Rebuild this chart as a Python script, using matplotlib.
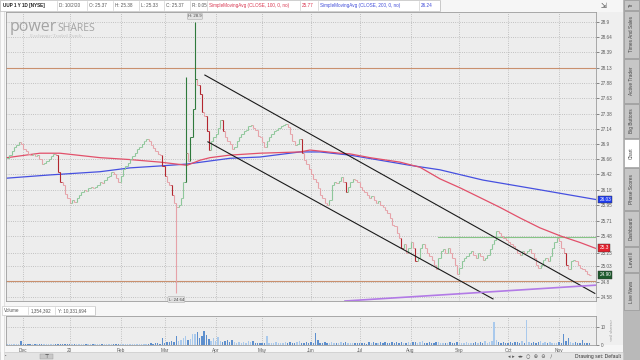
import matplotlib
matplotlib.use("Agg")
import matplotlib.pyplot as plt
import numpy as np
from matplotlib.patches import Rectangle
from matplotlib.ticker import NullLocator, NullFormatter
from matplotlib.transforms import blended_transform_factory

plt.rcParams["font.family"] = ["Liberation Sans", "DejaVu Sans"]

# daily closes, one per trading day (index 0 = late Nov 2019)
closes = [
    26.68, 26.72, 26.78, 26.85, 26.88, 26.93, 26.90, 26.82, 26.78, 26.74,
    26.72, 26.74, 26.70, 26.72, 26.66, 26.58, 26.60, 26.62, 26.66, 26.70,
    26.74, 26.72, 26.45, 26.30, 26.25, 26.12, 26.05, 25.98, 26.03, 25.99,
    26.06, 26.10, 26.14, 26.18, 26.16, 26.20, 26.23, 26.20, 26.22, 26.26,
    26.30, 26.28, 26.33, 26.38, 26.40, 26.45, 26.42, 26.36, 26.30, 26.40,
    26.50, 26.55, 26.60, 26.66, 26.70, 26.76, 26.82, 26.85, 26.90, 26.94,
    26.98, 26.95, 26.88, 26.84, 26.78, 26.74, 26.72, 26.55, 26.40, 26.30,
    26.25, 26.10, 25.98, 25.92, 25.95, 26.05, 26.30, 26.75, 26.62, 27.00,
    27.45, 27.95, 27.85, 27.70, 27.40, 27.35, 27.10, 26.80, 26.95, 27.00,
    27.05, 27.15, 27.28, 27.10, 27.00, 26.95, 26.90, 26.82, 26.85, 26.95,
    27.00, 27.05, 27.10, 27.12, 27.18, 27.20, 27.15, 27.12, 27.02, 27.00,
    26.92, 26.85, 26.95, 27.00, 27.05, 27.10, 27.12, 27.15, 27.18, 27.20,
    27.22, 27.16, 27.05, 26.95, 26.88, 26.90, 26.98, 26.75, 26.65, 26.58,
    26.50, 26.42, 26.35, 26.30, 26.20, 26.10, 26.05, 25.98, 25.95, 26.02,
    26.25, 26.30, 26.28, 26.32, 26.38, 26.30, 26.15, 26.22, 26.30, 26.35,
    26.33, 26.30, 26.22, 26.18, 26.15, 26.10, 26.05, 26.08, 26.03, 25.98,
    26.00, 25.95, 25.92, 25.87, 25.82, 25.75, 25.65, 25.62, 25.52, 25.45,
    25.30, 25.35, 25.22, 25.30, 25.38, 25.30, 25.10, 25.15, 25.30, 25.35,
    25.30, 25.22, 25.18, 25.12, 25.05, 24.98, 25.15, 25.25, 25.28, 25.22,
    25.30, 25.22, 25.15, 25.05, 24.92, 25.00, 25.10, 25.15, 25.18, 25.22,
    25.25, 25.20, 25.15, 25.22, 25.18, 25.12, 25.15, 25.20, 25.28, 25.35,
    25.42, 25.55, 25.52, 25.48, 25.45, 25.42, 25.38, 25.35, 25.32, 25.28,
    25.22, 25.20, 25.25, 25.22, 25.25, 25.28, 25.22, 25.15, 25.05, 25.00,
    25.05, 25.12, 25.15, 25.10, 25.18, 25.30, 25.38, 25.45, 25.40, 25.30,
    25.22, 25.05, 24.98, 25.10, 25.12, 25.10, 25.05, 25.00, 24.98, 24.95,
    24.92, 24.90,
]

# volume in millions of shares
volume = [
    0.4, 0.3, 0.5, 0.4, 0.6, 0.8, 2.4, 0.5, 0.4, 0.3,
    0.5, 0.4, 0.3, 0.6, 0.4, 0.5, 0.3, 0.4, 0.5, 0.3,
    0.3, 0.4, 0.6, 0.5, 0.3, 0.4, 0.5, 0.6, 0.4, 0.5,
    0.3, 0.4, 0.6, 0.5, 0.4, 0.3, 0.5, 0.4, 0.6, 0.5,
    0.4, 0.3, 0.5, 0.6, 0.4, 0.5, 0.3, 0.6, 0.5, 0.4,
    0.5, 0.6, 0.4, 0.3, 0.5, 0.6, 0.4, 0.7, 0.5, 0.6,
    0.8, 0.6, 1.0, 0.7, 0.9, 1.2, 0.8, 3.8, 1.0, 1.5,
    1.8, 2.5, 1.6, 5.0, 2.0, 2.6, 4.2, 5.2, 3.0, 3.5,
    6.5, 6.2, 7.2, 4.0, 5.0, 8.0, 5.5, 3.2, 2.5, 4.0,
    2.2, 4.5, 2.0, 1.8, 2.2, 2.6, 1.5, 3.0, 1.6, 1.4,
    1.8, 1.2, 1.6, 1.3, 2.0, 1.5, 2.2, 1.2, 1.4, 1.1,
    1.3, 1.2, 5.0, 1.4, 1.0, 1.2, 1.6, 1.1, 1.3, 1.0,
    1.5, 1.2, 1.9, 1.3, 1.1, 1.6, 2.0, 1.4, 1.2, 1.8,
    1.4, 1.6, 1.2, 7.0, 3.0, 1.4, 1.2, 1.6, 1.0, 1.3,
    1.8, 1.1, 1.4, 1.0, 1.6, 1.2, 1.5, 0.9, 1.3, 1.1,
    0.9, 1.2, 1.0, 1.4, 1.1, 0.8, 1.5, 1.2, 1.6, 1.0,
    1.3, 1.5, 1.1, 1.7, 1.2, 1.4, 1.9, 1.3, 1.6, 1.2,
    1.8, 1.4, 1.2, 1.6, 1.3, 1.9, 1.5, 1.2, 1.7, 2.0,
    1.4, 1.2, 1.6, 1.1, 1.3, 1.9, 1.5, 1.2, 1.0, 1.4,
    1.2, 1.6, 1.1, 1.3, 1.8, 1.0, 1.4, 1.2, 1.6, 1.1,
    1.3, 1.0, 1.5, 1.2, 1.8, 1.4, 2.0, 1.3, 1.6, 2.2,
    13.0, 3.0, 1.5, 1.2, 1.8, 1.4, 1.1, 1.6, 1.3, 1.9,
    1.5, 1.2, 2.0, 1.4, 14.0, 1.6, 1.2, 1.5, 1.1, 1.8,
    2.5, 1.3, 1.7, 1.2, 1.5, 1.1, 1.4, 1.3, 1.6, 1.2,
    6.5, 2.0, 4.0, 1.5, 1.2, 1.8, 1.4, 1.1, 3.0, 1.3,
    1.0, 1.2,
]

# bad prints (bar index -> extreme)
spike_highs = {77: 27.98, 81: 28.90}
spike_lows = {73: 24.64}

month_idx = [7, 27, 49, 68, 90, 110, 131, 152, 174, 195, 216, 238]
month_labels = ["Dec", "20", "Feb", "Mar", "Apr", "May", "Jun", "Jul", "Aug", "Sep", "Oct", "Nov"]
price_ticks = [28.9, 28.64, 28.39, 28.13, 27.88, 27.63, 27.38, 27.14, 26.9, 26.66,
               26.42, 26.18, 25.95, 25.71, 25.48, 25.23, 25.03, 24.8, 24.58]

ma100_x = [0, 14.2, 22.8, 40.1, 53, 66, 77.6, 83.2, 87.5, 96.1, 109, 126.3, 130.6,
           143.5, 147.8, 156.5, 169.4, 178, 182.3, 186.6, 195.3, 203.9, 212.5,
           221.1, 229.7, 238.4, 247, 253.9]
ma100_y = [26.68, 26.75, 26.75, 26.68, 26.65, 26.61, 26.56, 26.64, 26.68, 26.72,
           26.75, 26.77, 26.80, 26.75, 26.74, 26.68, 26.61, 26.53, 26.44, 26.35,
           26.21, 26.06, 25.91, 25.75, 25.60, 25.48, 25.38, 25.29]
ma200_x = [0, 18.5, 40.1, 53, 66, 77.6, 96.1, 109, 126.3, 134.9, 147.8, 160.8,
           173.7, 186.6, 205.2, 229.7, 253.9]
ma200_y = [26.36, 26.41, 26.46, 26.52, 26.55, 26.58, 26.67, 26.69, 26.77, 26.77,
           26.72, 26.64, 26.56, 26.49, 26.33, 26.18, 26.03]

channel_upper_x, channel_upper_y = [85.3, 253.4], [28.01, 24.63]
channel_lower_x, channel_lower_y = [86.6, 209.5], [26.93, 24.55]
support_x, support_y = [145.7, 253.9], [24.52, 24.75]
green_x, green_y = [185.8, 253.9], [25.46, 25.46]
level_top, level_bottom = 28.13, 24.81

W, H = 640, 360


def fx(x):
    return x / W


def fy(y):
    return 1 - y / H


fig = plt.figure(figsize=(6.4, 3.6), dpi=100, facecolor="#f6f6f6")

# backgrounds: price axis strip, sidebar, toolbars
fig.add_artist(Rectangle((fx(596), fy(345)), fx(27), 333 / H, transform=fig.transFigure,
                         fc="#efefef", ec="none", zorder=-2))
fig.add_artist(Rectangle((fx(623), 0), fx(17), 1, transform=fig.transFigure,
                         fc="#b9b9b9", ec="none", zorder=-2))
fig.add_artist(Rectangle((0, 0), fx(623), 8 / H, transform=fig.transFigure,
                         fc="#e4e4e4", ec="#c0c0c0", lw=0.4, zorder=-2))
fig.add_artist(Rectangle((0, 0), fx(4), 1, transform=fig.transFigure,
                         fc="#fafafa", ec="#d0d0d0", lw=0.4, zorder=-2))

ax = fig.add_axes([fx(6), fy(301), 590 / W, 289 / H])
vax = fig.add_axes([fx(6), fy(345), 590 / W, 29 / H], sharex=ax)

for a in (ax, vax):
    a.set_facecolor("#ededed")
    for s in a.spines.values():
        s.set_color("#9c9c9c")
        s.set_linewidth(0.6)

idx = np.arange(len(closes))
c = np.array(closes)
opens = np.r_[c[0], c[:-1]]
highs = np.maximum(opens, c)
lows = np.minimum(opens, c)
for k, v in spike_highs.items():
    highs[k] = v
for k, v in spike_lows.items():
    lows[k] = v
chg = c - opens
cols = []
for d in chg:
    if d >= 0:
        cols.append("#2f7a3c" if d >= 0.3 else "#8ec79a")
    else:
        cols.append("#b3262f" if d <= -0.14 else "#e6a2a8")

# grid
grid_kw = dict(color="#9a9a9a", lw=0.5, linestyle=(0, (1, 2.2)))
for m in month_idx:
    ax.axvline(m, zorder=0, **grid_kw)
    vax.axvline(m, zorder=0, **grid_kw)
for p in price_ticks:
    ax.axhline(p, zorder=0, **grid_kw)
vax.axhline(10, zorder=0, **grid_kw)

# levels and drawings
ax.axhline(level_top, color="#c9906e", lw=0.8, zorder=1)
ax.axhline(level_bottom, color="#c9906e", lw=0.8, zorder=1)
ax.plot(green_x, green_y, color="#86c486", lw=0.8, zorder=1)
ax.plot(ma200_x, ma200_y, color="#4650e0", lw=0.9, zorder=2)
ax.plot(ma100_x, ma100_y, color="#e2506a", lw=0.9, zorder=2)

# OHLC bars
ax.vlines(idx, lows, highs, colors=cols, lw=0.8, zorder=3)
ax.hlines(opens, idx - 0.7, idx, colors=cols, lw=0.6, zorder=3)
ax.hlines(c, idx, idx + 0.7, colors=cols, lw=0.6, zorder=3)

ax.plot(channel_upper_x, channel_upper_y, color="#1a1a1a", lw=0.8, zorder=4)
ax.plot(channel_lower_x, channel_lower_y, color="#1a1a1a", lw=0.8, zorder=4)
ax.plot(support_x, support_y, color="#b27ae6", lw=1.2, zorder=4)

ax.set_yscale("log")
ax.set_ylim(24.52, 29.07)
ax.set_xlim(-0.43, 253.9)
ax.yaxis.set_minor_locator(NullLocator())
ax.yaxis.set_minor_formatter(NullFormatter())
ax.set_yticks(price_ticks)
ax.set_yticklabels([f"{p:g}" for p in price_ticks])
ax.yaxis.tick_right()
ax.tick_params(axis="y", labelsize=3.3, colors="#5a5a5a", length=2, width=0.5, pad=1.5)
ax.tick_params(axis="x", bottom=False, labelbottom=False)

# right-side price tags
bt = blended_transform_factory(ax.transAxes, ax.transData)
for val, txt, fc in [(26.03, "26.03", "#1f3cf0"), (25.30, "25.3", "#e3212d"),
                     (24.90, "24.90", "#1d5a2c")]:
    ax.text(1.006, val, txt, transform=bt, fontsize=3.4, color="white", va="center",
            ha="left", clip_on=False, zorder=6,
            bbox=dict(boxstyle="square,pad=0.25", fc=fc, ec="#333333", lw=0.3))

# extreme labels
ax.text(81, 28.96, "H: 28.9", fontsize=3.1, color="#444", ha="center", va="bottom",
        clip_on=False, zorder=6,
        bbox=dict(boxstyle="round,pad=0.2", fc="#e2e2e2", ec="#999", lw=0.3))
ax.text(73, 24.57, "L: 24.64", fontsize=3.1, color="#444", ha="center", va="top",
        clip_on=False, zorder=6,
        bbox=dict(boxstyle="round,pad=0.2", fc="#e2e2e2", ec="#999", lw=0.3))

# volume
vcols = ["#a9c9ec" if d >= 0 else "#5d8fce" for d in chg]
vax.bar(idx, volume, width=0.6, color=vcols, zorder=2)
vax.set_ylim(0, 16.5)
vax.yaxis.tick_right()
vax.set_yticks([0, 10])
vax.set_yticklabels(["0", "10"])
vax.tick_params(axis="y", labelsize=3.3, colors="#5a5a5a", length=2, width=0.5, pad=1.5)
vax.set_xticks(month_idx)
vax.set_xticklabels(month_labels)
vax.tick_params(axis="x", labelsize=3.4, colors="#5a5a5a", length=0, pad=2)

# header bar
fig.add_artist(Rectangle((0, fy(11)), fx(440), 11 / H, transform=fig.transFigure,
                         fc="white", ec="#b0b0b0", lw=0.4))
header = [(2, 57, "UUP 1 Y 1D [NYSE]", "#222222", "bold"),
          (58, 87, "D: 10/2/20", "#555555", "normal"),
          (88, 113, "O: 25.37", "#555555", "normal"),
          (114, 139, "H: 25.38", "#555555", "normal"),
          (140, 164, "L: 25.33", "#555555", "normal"),
          (165, 190, "C: 25.37", "#555555", "normal"),
          (191, 207, "R: 0.05", "#555555", "normal"),
          (208, 300, "SimpleMovingAvg (CLOSE, 100, 0, no)", "#d8344e", "normal"),
          (301, 318, "25.77", "#d8344e", "normal"),
          (319, 419, "SimpleMovingAvg (CLOSE, 200, 0, no)", "#3e4ad8", "normal"),
          (420, 440, "26.24", "#3e4ad8", "normal")]
for x0, x1, txt, col, wt in header:
    fig.text(fx(x0 + 1.2), fy(5.5), txt, fontsize=3.3, color=col, weight=wt, va="center")
    fig.add_artist(plt.Line2D([fx(x1), fx(x1)], [fy(1), fy(10)], transform=fig.transFigure,
                              color="#c4c4c4", lw=0.4))
fig.text(fx(601), fy(5.5), "\u21f2", fontsize=5, color="#444", va="center",
         family=["DejaVu Sans"])

# watermark logo
logo = fig.text(fx(10), fy(31), "power", fontsize=11.5, color="#a3a3a3", family="Open Sans")
renderer = fig.canvas.get_renderer()
bb = logo.get_window_extent(renderer=renderer)
fig.text(bb.x1 / fig.bbox.width + fx(0.5), fy(31), "SHARES", fontsize=7.5,
         color="#a3a3a3", family="Open Sans")
fig.text(fx(30), fy(37), "Exchange-Traded Funds", fontsize=3.8, color="#c6c6c6",
         family="Liberation Serif")

# volume header
fig.add_artist(Rectangle((fx(2), fy(315)), fx(93), 9 / H, transform=fig.transFigure,
                         fc="white", ec="#c0c0c0", lw=0.4))
for x0, x1, txt in [(2, 28, "Volume"), (29, 55, "1,354,392"), (56, 95, "Y: 10,331,694")]:
    fig.text(fx(x0 + 1.5), fy(310.5), txt, fontsize=3.3, color="#555", va="center")
    fig.add_artist(plt.Line2D([fx(x1), fx(x1)], [fy(307), fy(314)], transform=fig.transFigure,
                              color="#c4c4c4", lw=0.4))
fig.text(fx(612), fy(330), "<mil shares>", fontsize=2.8, color="#999", rotation=90,
         va="center", ha="center")

# bottom toolbar
fig.add_artist(Rectangle((fx(40), fy(359)), fx(13), 5 / H, transform=fig.transFigure,
                         fc="#c8c8c8", ec="#999", lw=0.3))
fig.text(fx(47), fy(356.5), "\u22a4", fontsize=3.5, color="#333", ha="center", va="center",
         family=["DejaVu Sans"])
fig.text(fx(5), fy(356.5), "\u2022", fontsize=3, color="#555", va="center")
fig.text(fx(508), fy(356.5), "\u25c2 \u25b8  \u25c2\u25b8  \u25cb  \u2295  \u2296   \u2215",
         fontsize=3.6, color="#555", va="center", family=["DejaVu Sans"])
fig.text(fx(575), fy(356.5), "Drawing set: Default", fontsize=3.6, color="#333", va="center")

# sidebar tabs
tabs = [(0, 10, "Tr", False), (11, 58, "Times And Sales", False),
        (59, 103, "Active Trader", False), (104, 138, "Big Buttons", False),
        (139, 167, "Chart", True), (168, 210, "Phase Scores", False),
        (211, 246, "Dashboard", False), (247, 272, "Level II", False),
        (273, 310, "Live News", False)]
for y0, y1, txt, sel in tabs:
    fig.add_artist(Rectangle((fx(624), fy(y1)), fx(15), (y1 - y0) / H,
                             transform=fig.transFigure, fc="white" if sel else "#c6c6c6",
                             ec="#8f8f8f", lw=0.4))
    fig.text(fx(631.5), fy((y0 + y1) / 2), txt, fontsize=3.4, color="#444", rotation=90,
             ha="center", va="center")

fig.savefig("out.png", dpi=100, facecolor=fig.get_facecolor())
